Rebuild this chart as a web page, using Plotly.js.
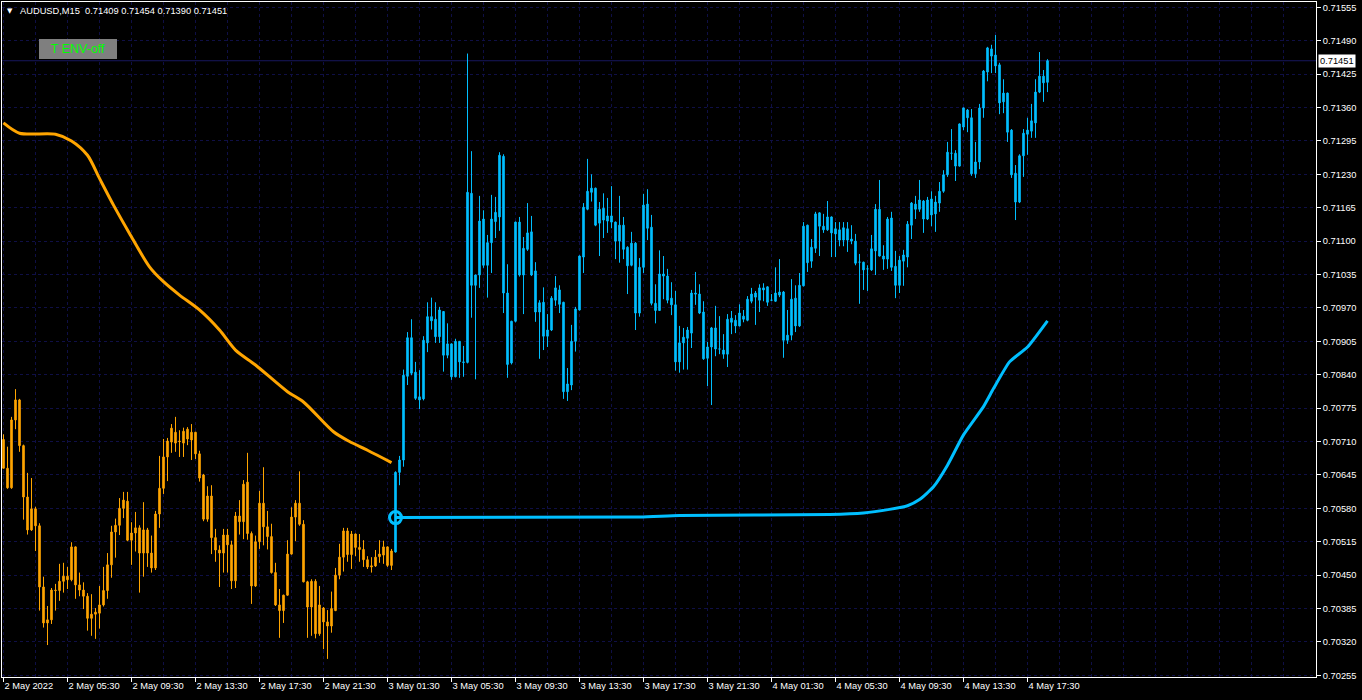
<!DOCTYPE html>
<html>
<head>
<meta charset="utf-8">
<script src="https://cdn.plot.ly/plotly-3.0.1.min.js"></script>
<style>html,body{margin:0;padding:0;background:#000;}#chart{width:1362px;height:700px;}</style>
</head>
<body>
<div id="chart"></div>
<script>
// ---- data (AUDUSD M15) ----
const openP = [
0.70714,0.70658,0.70620,0.70752,0.70791,0.70702,0.70602,0.70538,0.70579,0.70546,
0.70427,0.70357,0.70363,0.70421,0.70420,0.70438,0.70448,0.70441,0.70505,0.70431,
0.70421,0.70409,0.70366,0.70374,0.70376,0.70392,0.70420,0.70470,0.70534,0.70547,
0.70580,0.70594,0.70518,0.70532,0.70542,0.70493,0.70538,0.70493,0.70464,0.70569,
0.70619,0.70680,0.70709,0.70728,0.70711,0.70707,0.70734,0.70713,0.70728,0.70686,
0.70645,0.70559,0.70604,0.70523,0.70499,0.70493,0.70528,0.70509,0.70439,0.70565,
0.70554,0.70631,0.70531,0.70429,0.70515,0.70590,0.70544,0.70525,0.70455,0.70392,
0.70381,0.70411,0.70491,0.70563,0.70590,0.70549,0.70437,0.70388,0.70438,0.70336,
0.70386,0.70359,0.70351,0.70381,0.70450,0.70485,0.70536,0.70490,0.70530,0.70504,
0.70500,0.70480,0.70466,0.70468,0.70486,0.70489,0.70505,0.70469,0.70495,0.70650,
0.70674,0.70837,0.70912,0.70845,0.70797,0.70793,0.70902,0.70953,0.70948,0.70914,
0.70963,0.70878,0.70900,0.70836,0.70905,0.70865,0.70864,0.71193,0.71014,0.71034,
0.71143,0.71053,0.71097,0.71138,0.71147,0.71265,0.70999,0.70863,0.70944,0.71137,
0.71034,0.71084,0.71118,0.71042,0.70962,0.70981,0.70915,0.70927,0.70985,0.71005,
0.70981,0.70807,0.70820,0.70905,0.70966,0.71069,0.71162,0.71195,0.71203,0.71135,
0.71164,0.71139,0.71149,0.71137,0.71100,0.71131,0.71088,0.71053,0.71096,0.70960,
0.71049,0.71172,0.71127,0.70979,0.70965,0.71036,0.71032,0.70989,0.70976,0.70865,
0.70902,0.70911,0.70921,0.70999,0.70997,0.70962,0.70872,0.70894,0.70931,0.70890,
0.70888,0.70880,0.70950,0.70946,0.70935,0.70954,0.70946,0.70983,0.70999,0.70985,
0.71009,0.71011,0.70985,0.70983,0.71001,0.71001,0.70907,0.70917,0.70989,0.70935,
0.71013,0.71131,0.71061,0.71086,0.71155,0.71129,0.71122,0.71147,0.71124,0.71122,
0.71102,0.71124,0.71104,0.71100,0.71059,0.71059,0.71046,0.71044,0.71081,0.71162,
0.71071,0.71065,0.71145,0.71051,0.71014,0.71061,0.71069,0.71131,0.71172,0.71162,
0.71178,0.71143,0.71182,0.71153,0.71174,0.71197,0.71229,0.71271,0.71271,0.71246,
0.71322,0.71355,0.71340,0.71231,0.71254,0.71359,0.71429,0.71474,0.71462,0.71443,
0.71371,0.71388,0.71316,0.71232,0.71176,0.71266,0.71308,0.71314,0.71330,0.71390,
0.71421,0.71409];
const highP = [
0.70724,0.70700,0.70758,0.70812,0.70793,0.70704,0.70649,0.70639,0.70583,0.70551,
0.70447,0.70390,0.70425,0.70433,0.70472,0.70474,0.70466,0.70514,0.70506,0.70455,
0.70436,0.70415,0.70413,0.70386,0.70429,0.70466,0.70493,0.70546,0.70560,0.70600,
0.70612,0.70612,0.70553,0.70573,0.70547,0.70592,0.70542,0.70527,0.70575,0.70682,
0.70715,0.70717,0.70744,0.70758,0.70732,0.70737,0.70738,0.70744,0.70729,0.70692,
0.70647,0.70623,0.70625,0.70540,0.70508,0.70540,0.70540,0.70517,0.70573,0.70596,
0.70635,0.70688,0.70535,0.70527,0.70614,0.70660,0.70575,0.70550,0.70474,0.70423,
0.70412,0.70518,0.70582,0.70596,0.70652,0.70557,0.70439,0.70442,0.70442,0.70429,
0.70388,0.70382,0.70418,0.70464,0.70511,0.70542,0.70542,0.70536,0.70531,0.70530,
0.70518,0.70487,0.70485,0.70499,0.70518,0.70517,0.70506,0.70501,0.70652,0.70682,
0.70850,0.70923,0.70948,0.70865,0.70849,0.70915,0.70981,0.70990,0.70981,0.70972,
0.70964,0.70940,0.70901,0.70910,0.70905,0.70896,0.71465,0.71275,0.71035,0.71188,
0.71160,0.71112,0.71190,0.71186,0.71273,0.71269,0.71055,0.70945,0.71138,0.71147,
0.71108,0.71174,0.71149,0.71059,0.70985,0.71010,0.70958,0.70993,0.71032,0.71014,
0.70982,0.70853,0.70937,0.70972,0.71072,0.71174,0.71260,0.71230,0.71204,0.71176,
0.71193,0.71184,0.71207,0.71138,0.71188,0.71147,0.71090,0.71118,0.71098,0.71067,
0.71192,0.71201,0.71151,0.71016,0.71082,0.71071,0.71046,0.71020,0.71003,0.70935,
0.70931,0.70933,0.71005,0.71040,0.71016,0.70983,0.70904,0.70933,0.70974,0.70954,
0.70919,0.70958,0.70964,0.70956,0.70977,0.70966,0.70993,0.71009,0.71003,0.71016,
0.71018,0.71012,0.70997,0.71049,0.71065,0.71003,0.70966,0.71026,0.71014,0.71038,
0.71137,0.71132,0.71104,0.71157,0.71156,0.71153,0.71178,0.71148,0.71137,0.71137,
0.71137,0.71137,0.71131,0.71114,0.71075,0.71060,0.71053,0.71112,0.71172,0.71219,
0.71092,0.71147,0.71157,0.71081,0.71071,0.71083,0.71139,0.71176,0.71188,0.71219,
0.71180,0.71186,0.71197,0.71188,0.71215,0.71238,0.71293,0.71318,0.71277,0.71329,
0.71360,0.71357,0.71357,0.71293,0.71367,0.71433,0.71478,0.71482,0.71501,0.71447,
0.71415,0.71389,0.71318,0.71248,0.71269,0.71318,0.71340,0.71367,0.71415,0.71468,
0.71433,0.71454];
const lowP = [
0.70658,0.70618,0.70618,0.70734,0.70690,0.70558,0.70529,0.70536,0.70497,0.70381,
0.70348,0.70314,0.70355,0.70381,0.70400,0.70416,0.70423,0.70438,0.70404,0.70409,
0.70384,0.70342,0.70332,0.70326,0.70346,0.70389,0.70404,0.70445,0.70484,0.70528,
0.70561,0.70516,0.70470,0.70496,0.70416,0.70447,0.70466,0.70455,0.70460,0.70542,
0.70608,0.70633,0.70688,0.70690,0.70680,0.70680,0.70703,0.70674,0.70676,0.70632,
0.70555,0.70554,0.70491,0.70476,0.70427,0.70455,0.70455,0.70423,0.70425,0.70529,
0.70520,0.70519,0.70394,0.70427,0.70501,0.70508,0.70500,0.70453,0.70390,0.70328,
0.70357,0.70410,0.70490,0.70516,0.70546,0.70436,0.70328,0.70332,0.70327,0.70332,
0.70306,0.70287,0.70338,0.70380,0.70442,0.70457,0.70476,0.70462,0.70487,0.70476,
0.70466,0.70462,0.70455,0.70466,0.70474,0.70472,0.70466,0.70460,0.70494,0.70625,
0.70661,0.70820,0.70839,0.70791,0.70773,0.70790,0.70884,0.70928,0.70902,0.70902,
0.70846,0.70872,0.70830,0.70835,0.70834,0.70836,0.70862,0.70951,0.70831,0.71009,
0.71048,0.70990,0.71038,0.71106,0.71120,0.70960,0.70834,0.70860,0.70942,0.71031,
0.70958,0.71081,0.71032,0.70943,0.70871,0.70888,0.70894,0.70925,0.70974,0.70960,
0.70793,0.70789,0.70810,0.70885,0.70965,0.71038,0.71160,0.71177,0.71129,0.71071,
0.71106,0.71116,0.71125,0.71065,0.71058,0.71065,0.70997,0.71051,0.70927,0.70953,
0.71038,0.71102,0.70975,0.70940,0.70964,0.70987,0.70979,0.70956,0.70848,0.70844,
0.70850,0.70850,0.70892,0.70976,0.70958,0.70869,0.70818,0.70781,0.70876,0.70880,
0.70871,0.70855,0.70919,0.70921,0.70934,0.70942,0.70944,0.70979,0.70937,0.70962,
0.70983,0.70974,0.70983,0.70982,0.70991,0.70873,0.70900,0.70907,0.70923,0.70933,
0.71012,0.71040,0.71048,0.71077,0.71071,0.71116,0.71120,0.71069,0.71069,0.71090,
0.71090,0.71079,0.71094,0.71053,0.70978,0.71005,0.71003,0.71042,0.71034,0.71070,
0.71044,0.71046,0.71042,0.70989,0.70999,0.71013,0.71049,0.71104,0.71143,0.71157,
0.71116,0.71141,0.71129,0.71118,0.71157,0.71194,0.71225,0.71258,0.71217,0.71245,
0.71316,0.71312,0.71227,0.71223,0.71240,0.71340,0.71411,0.71427,0.71427,0.71347,
0.71349,0.71293,0.71223,0.71141,0.71174,0.71225,0.71268,0.71301,0.71301,0.71388,
0.71371,0.71390];
const closeP = [
0.70658,0.70620,0.70752,0.70791,0.70702,0.70602,0.70538,0.70579,0.70546,0.70427,
0.70357,0.70363,0.70421,0.70420,0.70438,0.70448,0.70441,0.70505,0.70431,0.70421,
0.70409,0.70366,0.70374,0.70378,0.70392,0.70420,0.70470,0.70534,0.70547,0.70580,
0.70596,0.70518,0.70532,0.70542,0.70493,0.70538,0.70493,0.70464,0.70569,0.70619,
0.70680,0.70711,0.70736,0.70707,0.70710,0.70730,0.70715,0.70728,0.70686,0.70639,
0.70559,0.70604,0.70523,0.70499,0.70493,0.70528,0.70509,0.70439,0.70565,0.70554,
0.70627,0.70531,0.70429,0.70515,0.70590,0.70544,0.70525,0.70455,0.70392,0.70381,
0.70411,0.70491,0.70563,0.70590,0.70549,0.70437,0.70388,0.70438,0.70336,0.70392,
0.70359,0.70351,0.70385,0.70450,0.70485,0.70536,0.70490,0.70530,0.70504,0.70500,
0.70480,0.70466,0.70468,0.70485,0.70491,0.70505,0.70469,0.70497,0.70650,0.70674,
0.70839,0.70912,0.70843,0.70794,0.70791,0.70907,0.70953,0.70945,0.70914,0.70966,
0.70878,0.70900,0.70836,0.70905,0.70865,0.70864,0.71195,0.71014,0.71034,0.71139,
0.71053,0.71097,0.71143,0.71156,0.71267,0.70999,0.70860,0.70944,0.71137,0.71034,
0.71086,0.71116,0.71034,0.70962,0.70980,0.70915,0.70927,0.70989,0.71009,0.70977,
0.70807,0.70822,0.70905,0.70968,0.71071,0.71166,0.71197,0.71203,0.71131,0.71162,
0.71141,0.71149,0.71137,0.71100,0.71131,0.71084,0.71052,0.71096,0.70960,0.71049,
0.71170,0.71125,0.70979,0.70965,0.71036,0.71032,0.70985,0.70976,0.70865,0.70902,
0.70913,0.70927,0.70999,0.70997,0.70960,0.70871,0.70894,0.70931,0.70890,0.70890,
0.70880,0.70948,0.70942,0.70935,0.70960,0.70948,0.70987,0.70997,0.70991,0.71009,
0.71005,0.70981,0.70985,0.70999,0.70995,0.70907,0.70917,0.70987,0.70935,0.71014,
0.71129,0.71058,0.71088,0.71153,0.71129,0.71122,0.71147,0.71116,0.71114,0.71102,
0.71126,0.71102,0.71100,0.71057,0.71059,0.71044,0.71046,0.71085,0.71162,0.71071,
0.71065,0.71143,0.71049,0.71014,0.71063,0.71073,0.71133,0.71174,0.71162,0.71180,
0.71143,0.71180,0.71151,0.71176,0.71197,0.71229,0.71273,0.71271,0.71246,0.71328,
0.71359,0.71340,0.71231,0.71254,0.71359,0.71431,0.71476,0.71460,0.71441,0.71369,
0.71388,0.71312,0.71229,0.71176,0.71266,0.71310,0.71316,0.71334,0.71390,0.71421,
0.71408,0.71451];

// bar index where the candles switch from orange to blue
const switchBar = 98;

// orange moving-average line (bar index, price)
const maBar = [0,4,13,17,21,24,27.5,31.5,36.5,40,44,49,54,58,63,71,75,82.5,86.5,91,97];
const maVal = [0.71330,0.71310,0.71308,0.71295,0.71267,0.71222,0.71170,0.71115,0.71050,0.71021,
               0.70995,0.70966,0.70927,0.70888,0.70859,0.70807,0.70787,0.70729,0.70710,0.70693,0.70669];

// blue signal line (bar index, price)
const sigBar = [98,159,169,206.5,215,221.5,226,229,232.5,236,240,245,247.5,251.5,256,261];
const sigVal = [0.70562,0.70563,0.70566,0.70568,0.70571,0.70578,0.70585,0.70597,0.70622,0.70664,
                0.70723,0.70778,0.70813,0.70865,0.70894,0.70945];

// time-axis labels, one every 16 bars
const timeLabels = ["2 May 2022","2 May 05:30","2 May 09:30","2 May 13:30","2 May 17:30","2 May 21:30",
  "3 May 01:30","3 May 05:30","3 May 09:30","3 May 13:30","3 May 17:30","3 May 21:30",
  "4 May 01:30","4 May 05:30","4 May 09:30","4 May 13:30","4 May 17:30"];
const labelStep = 16;

const headerText = "AUDUSD,M15  0.71409 0.71454 0.71390 0.71451";
const buttonText = "T ENV-off";

// ---- drawing ----
const ORANGE = '#FFA500', BLUE = '#00BFFF';
const GRID = '#0f0f46';
const FONT = 'Liberation Sans, Arial, sans-serif';
const bars = openP.map((_, i) => i);
const tickIdx = timeLabels.map((_, k) => k * labelStep);

function candles(a, b, color) {
  return {
    type: 'candlestick',
    x: bars.slice(a, b), open: openP.slice(a, b), high: highP.slice(a, b),
    low: lowP.slice(a, b), close: closeP.slice(a, b),
    increasing: {line: {color: color, width: 1}, fillcolor: color},
    decreasing: {line: {color: color, width: 1}, fillcolor: color},
    whiskerwidth: 0, hoverinfo: 'skip', showlegend: false
  };
}

const lastClose = closeP[closeP.length - 1];

const traces = [
  candles(0, switchBar, ORANGE),
  candles(switchBar, bars.length, BLUE),
  {type: 'scatter', mode: 'lines', x: maBar, y: maVal,
   line: {color: ORANGE, width: 3, shape: 'spline', smoothing: 0.8}, hoverinfo: 'skip', showlegend: false},
  {type: 'scatter', mode: 'lines', x: sigBar, y: sigVal,
   line: {color: BLUE, width: 3, shape: 'spline', smoothing: 0.5}, hoverinfo: 'skip', showlegend: false},
  {type: 'scatter', mode: 'markers', x: [sigBar[0]], y: [sigVal[0]],
   marker: {symbol: 'circle-open', size: 12, color: BLUE, line: {color: BLUE, width: 3}},
   hoverinfo: 'skip', showlegend: false}
];

// plot-area pixel helpers (plot spans x 2..1316, y 2..677)
const PL = 2, PR = 1316, PT = 2, PB = 677;
const px = v => (v - PL) / (PR - PL);
const py = v => 1 - (v - PT) / (PB - PT);

const layout = {
  width: 1362, height: 700,
  margin: {l: PL, r: 1362 - PR, t: PT, b: 700 - PB, pad: 0},
  paper_bgcolor: '#000000', plot_bgcolor: '#000000',
  showlegend: false, boxgap: 0.45, hovermode: false,
  font: {family: FONT, size: 9.3, color: '#ffffff'},
  xaxis: {
    range: [-0.375, 328.125], fixedrange: true,
    rangeslider: {visible: false},
    tickmode: 'array', tickvals: tickIdx, ticktext: timeLabels,
    ticks: 'outside', ticklen: 4, tickcolor: '#ffffff', tickwidth: 1,
    ticklabelposition: 'outside right',
    tickfont: {family: FONT, size: 9.3, color: '#ffffff'},
    showgrid: true, gridcolor: GRID, griddash: '3px,3px', gridwidth: 1,
    minor: {tickmode: 'linear', tick0: 0, dtick: 8, showgrid: true, gridcolor: GRID, griddash: '3px,3px', ticks: ''},
    showline: true, linecolor: '#ffffff', linewidth: 1, mirror: true, zeroline: false
  },
  yaxis: {
    side: 'right', range: [0.702518, 0.715653], fixedrange: true,
    tickmode: 'linear', tick0: 0.70255, dtick: 0.00065, tickformat: '.5f',
    ticks: 'outside', ticklen: 4, tickcolor: '#ffffff', tickwidth: 1,
    tickfont: {family: FONT, size: 9.3, color: '#ffffff'},
    showgrid: true, gridcolor: GRID, griddash: '3px,3px', gridwidth: 1,
    showline: true, linecolor: '#ffffff', linewidth: 1, mirror: true, zeroline: false
  },
  shapes: [
    {type: 'line', xref: 'paper', yref: 'y', x0: 0, x1: 1, y0: lastClose, y1: lastClose,
     line: {color: '#17175e', width: 1}, layer: 'below'}
  ],
  annotations: [
    {xref: 'paper', yref: 'paper', x: px(9.5), y: py(10.5), xanchor: 'center', yanchor: 'middle',
     text: '▼', showarrow: false, font: {family: 'DejaVu Sans', size: 7, color: '#ffffff'}},
    {xref: 'paper', yref: 'paper', x: px(18), y: py(10.7), xanchor: 'left', yanchor: 'middle',
     text: headerText, showarrow: false, font: {family: FONT, size: 9.3, color: '#ffffff'}},
    {xref: 'paper', yref: 'paper', x: px(39), y: py(39), xanchor: 'left', yanchor: 'top',
     text: buttonText, showarrow: false, width: 78, height: 20, bgcolor: '#7f7f7f',
     borderpad: 0, borderwidth: 0, align: 'center', valign: 'middle',
     font: {family: FONT, size: 12.5, color: '#00ff00'}},
    {xref: 'paper', yref: 'y', x: 1, y: lastClose, xanchor: 'left', yanchor: 'middle', xshift: 2,
     text: lastClose.toFixed(5), showarrow: false, bgcolor: '#ffffff', borderpad: 1,
     font: {family: FONT, size: 9.3, color: '#000000'}}
  ]
};

Plotly.newPlot('chart', traces, layout, {staticPlot: true, displayModeBar: false});
</script>
</body>
</html>
